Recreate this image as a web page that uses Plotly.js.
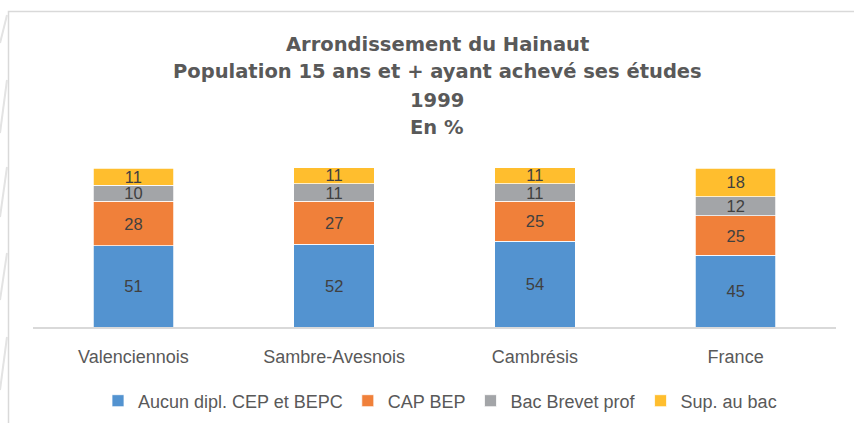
<!DOCTYPE html>
<html>
<head>
<meta charset="utf-8">
<script src="https://cdn.plot.ly/plotly-3.0.1.min.js"></script>
<style>
html,body{margin:0;padding:0;background:#fff;overflow:hidden;}
#chart{width:854px;height:423px;}
</style>
</head>
<body>
<div id="chart"></div>
<script>
const categories = ["Valenciennois", "Sambre-Avesnois", "Cambrésis", "France"];
const seriesNames = ["Aucun dipl. CEP et BEPC", "CAP BEP", "Bac Brevet prof", "Sup. au bac"];
const aucun = [51, 52, 54, 45];
const capBep = [28, 27, 25, 25];
const bacBrevet = [10, 11, 11, 12];
const supBac = [11, 11, 11, 18];
const titleLines = ["Arrondissement du Hainaut", "Population 15 ans et + ayant achevé ses études", "1999", "En %"];
const colors = ["#5393D0", "#F0803A", "#A3A5A8", "#FFBE2E"];

const labelFont = "'Liberation Sans', Arial, sans-serif";
const allSeries = [aucun, capBep, bacBrevet, supBac];

const traces = allSeries.map((vals, i) => ({
  type: "bar",
  name: seriesNames[i],
  x: categories,
  y: vals,
  text: vals.map(String),
  textposition: "inside",
  insidetextanchor: "middle",
  textangle: 0,
  constraintext: "none",
  textfont: {family: labelFont, size: 16.5, color: "#404040"},
  marker: {color: colors[i], line: {color: "#ffffff", width: 0.75}},
  hoverinfo: "x+y+name"
}));

// pixel helpers (plot area: l=33, t=168, w=803, h=159)
const L = 33, T = 168, W = 803, H = 159;
const px = x => (x - L) / W;
const py = y => (T + H - y) / H;

const titleY = [45, 72, 100, 127];
const annotations = titleLines.map((t, i) => ({
  text: "<b>" + t + "</b>",
  xref: "paper", yref: "paper",
  x: px(437), y: py(titleY[i]),
  xanchor: "center", yanchor: "middle",
  showarrow: false,
  font: {family: "'DejaVu Sans', sans-serif", size: 19.5, color: "#595959"}
}));

const shapes = [{
  type: "rect", xref: "paper", yref: "paper",
  x0: px(8.5), x1: px(900), y0: py(440), y1: py(11.5),
  line: {color: "#D9D9D9", width: 1.5},
  fillcolor: "rgba(0,0,0,0)",
  layer: "below"
}];
// faint decorative diagonal strokes at the left edge of the page
[[15, 43], [80, 133], [167, 217], [253, 300], [337, 390]].forEach(([a, b]) => {
  shapes.push({
    type: "line", xref: "paper", yref: "paper",
    x0: px(7), y0: py(a), x1: px(0), y1: py(b),
    line: {color: "#E3E3E3", width: 2},
    layer: "below"
  });
});

const layout = {
  width: 854, height: 423,
  margin: {l: L, r: 854 - L - W, t: T, b: 423 - T - H, pad: 0, autoexpand: false},
  paper_bgcolor: "#ffffff",
  plot_bgcolor: "#ffffff",
  barmode: "stack",
  bargap: 0.6,
  showlegend: true,
  legend: {
    orientation: "h",
    x: px(440), xanchor: "center",
    y: py(401), yanchor: "middle",
    font: {family: labelFont, size: 18, color: "#595959"},
    itemwidth: 30,
    traceorder: "normal"
  },
  xaxis: {
    type: "category",
    showline: true, linecolor: "#D9D9D9", linewidth: 2,
    showgrid: false, zeroline: false,
    ticks: "",
    tickfont: {family: labelFont, size: 18, color: "#595959"},
    ticklabelstandoff: 12
  },
  yaxis: {
    range: [0, 100],
    visible: false,
    showgrid: false, zeroline: false
  },
  annotations: annotations,
  shapes: shapes
};

Plotly.newPlot("chart", traces, layout, {displayModeBar: false, staticPlot: true});
</script>
</body>
</html>
